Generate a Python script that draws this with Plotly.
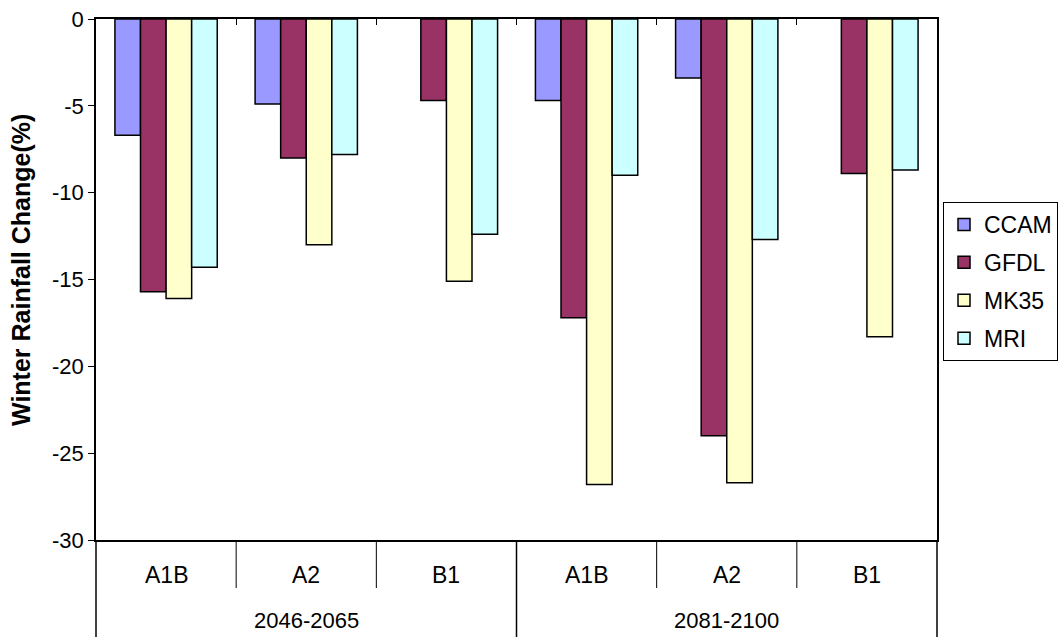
import plotly.graph_objects as go

# Winter rainfall change (%) by emission scenario and period, for four models
periods = ["2046-2065", "2081-2100"]
scenarios = ["A1B", "A2", "B1"]
models = ["CCAM", "GFDL", "MK35", "MRI"]

ccam = [-6.7, -4.9, None, -4.7, -3.4, None]
gfdl = [-15.7, -8.0, -4.7, -17.2, -24.0, -8.9]
mk35 = [-16.1, -13.0, -15.1, -26.8, -26.7, -18.3]
mri = [-14.3, -7.8, -12.4, -9.0, -12.7, -8.7]

y_ticks = [0, -5, -10, -15, -20, -25, -30]
y_tick_labels = ["0", "-5", "-10", "-15", "-20", "-25", "-30"]

colors = ["#9999FF", "#993366", "#FFFFCC", "#CCFFFF"]

FONT = "Arial, Liberation Sans, sans-serif"
W, H = 1060, 637
ML, MR, MT, MB = 96, 123, 19, 97
plot_w = W - ML - MR
plot_h = H - MT - MB

# one position per (period, scenario) cell along the category axis
cells = [(p, s) for p in periods for s in scenarios]
xpos = list(range(len(cells)))

fig = go.Figure()
for name, vals, col in zip(models, [ccam, gfdl, mk35, mri], colors):
    fig.add_trace(go.Bar(
        x=xpos, y=vals, name=name, legendgroup=name,
        marker=dict(color=col, line=dict(color="black", width=1.5)),
    ))

def py(px_below):
    """paper y for a distance in pixels below the plot area"""
    return -px_below / plot_h

shapes = []
line = dict(color="black", width=1.5)
# outer frame continues down through the category table
for xr in (0, 1):
    shapes.append(dict(type="line", xref="paper", yref="paper",
                       x0=xr, x1=xr, y0=0, y1=py(MB), line=line))
# divider between the two periods
n = len(scenarios)
for g in range(1, len(periods)):
    xb = g * n - 0.5
    shapes.append(dict(type="line", xref="x", yref="paper",
                       x0=xb, x1=xb, y0=0, y1=py(MB), line=line))
# dividers between scenarios inside a period
for g in range(len(periods)):
    for k in range(1, n):
        xb = g * n + k - 0.5
        shapes.append(dict(type="line", xref="x", yref="paper",
                           x0=xb, x1=xb, y0=0, y1=py(48), line=dict(color="black", width=1)))

annotations = []
for i, (p, s) in enumerate(cells):
    annotations.append(dict(x=i, y=py(35), xref="x", yref="paper", text=s,
                            showarrow=False, yanchor="middle",
                            font=dict(family=FONT, size=23, color="black")))
for g, p in enumerate(periods):
    annotations.append(dict(x=g * n + (n - 1) / 2, y=py(80), xref="x", yref="paper",
                            text=p, showarrow=False, yanchor="middle",
                            font=dict(family=FONT, size=22, color="black")))
annotations.append(dict(x=-(ML - 21) / plot_w, y=(540 - 270) / plot_h, xref="paper", yref="paper",
                        text="<b>Winter Rainfall Change(%)</b>", textangle=-90,
                        showarrow=False, xanchor="center", yanchor="middle",
                        font=dict(family=FONT, size=25, color="black")))

fig.update_layout(
    width=W, height=H, autosize=False,
    margin=dict(l=ML, r=MR, t=MT, b=MB, autoexpand=False),
    paper_bgcolor="white", plot_bgcolor="white",
    barmode="group", bargap=0.27, bargroupgap=0,
    font=dict(family=FONT, size=22, color="black"),
    xaxis=dict(range=[-0.5, len(cells) - 0.5], side="top",
               showline=True, linecolor="black", linewidth=1.5, mirror=True,
               tickvals=[i + 0.5 for i in range(len(cells) - 1)],
               ticks="inside", ticklen=6, tickcolor="black", tickwidth=1,
               showticklabels=False, showgrid=False, zeroline=False),
    yaxis=dict(range=[-30, 0], tickvals=y_ticks, ticktext=y_tick_labels,
               showline=True, linecolor="black", linewidth=1.5, mirror=True,
               ticks="outside", ticklen=6, tickcolor="black", tickwidth=1,
               tickfont=dict(family=FONT, size=22, color="black"),
               showgrid=False, zeroline=False),
    legend=dict(x=(1058 - ML) / plot_w, y=(540 - 202) / plot_h,
                xanchor="right", yanchor="top",
                bgcolor="white", bordercolor="black", borderwidth=1,
                traceorder="grouped", tracegroupgap=5,
                font=dict(family=FONT, size=23, color="black")),
    shapes=shapes, annotations=annotations,
)

fig.write_html("out.html")
